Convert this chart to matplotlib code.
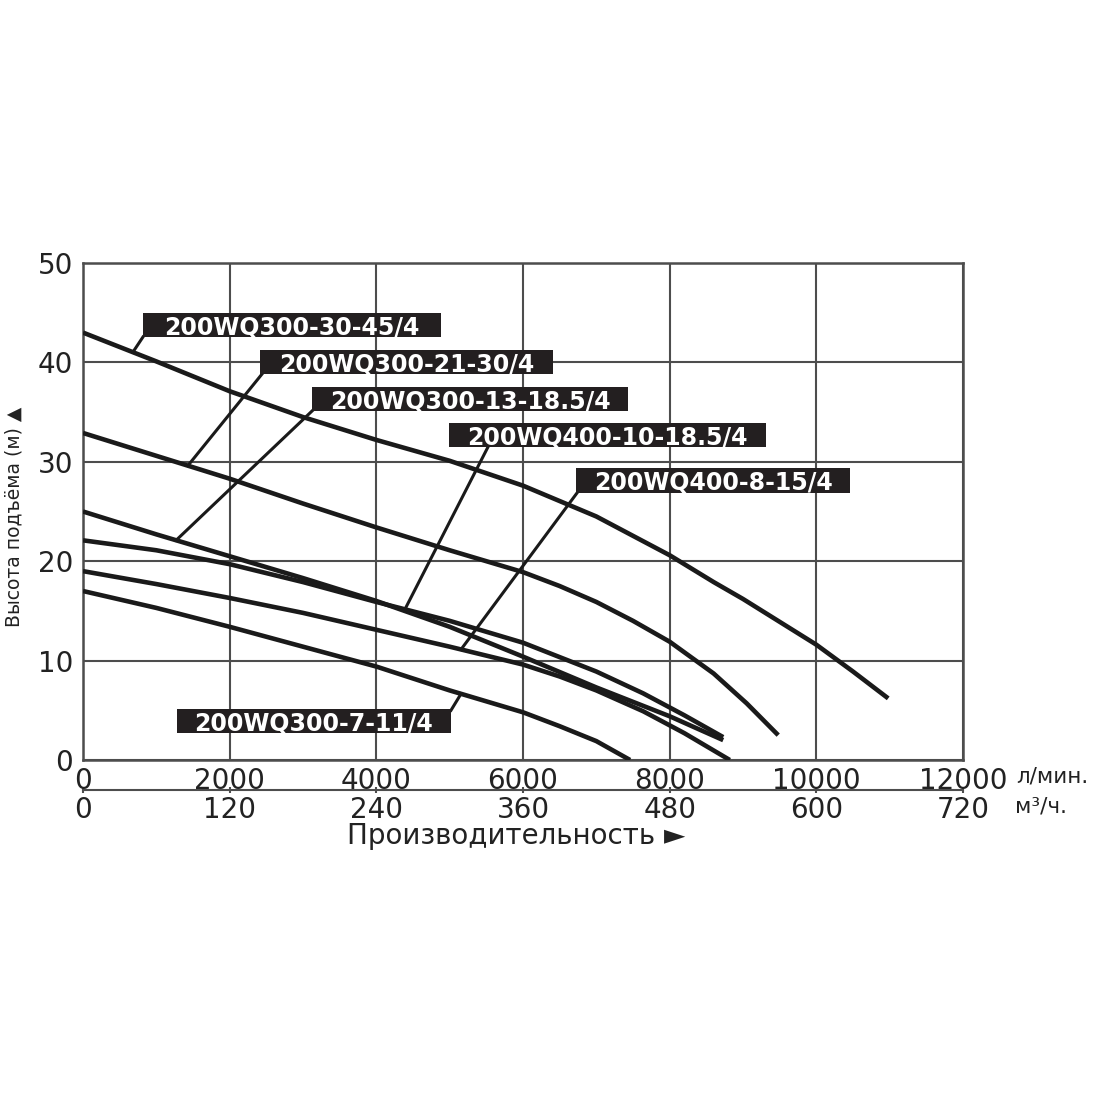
import numpy as np
import matplotlib.pyplot as plt
from matplotlib.patches import Rectangle

plt.rcParams['font.family'] = ['DejaVu Sans']

# pump curves: flow (l/min) vs head (m)
q_30_45 = [0, 1000, 2000, 3000, 4000, 5000, 6000, 7000, 8000, 8600, 9000, 10000, 10500, 10980]
h_30_45 = [43.0, 40.1, 37.1, 34.5, 32.2, 30.1, 27.6, 24.5, 20.6, 17.9, 16.2, 11.6, 8.9, 6.2]

q_21_30 = [0, 1000, 2000, 3000, 4000, 5000, 6000, 6500, 7000, 7500, 8000, 8600, 9050, 9480]
h_21_30 = [32.9, 30.6, 28.3, 25.8, 23.4, 21.1, 18.9, 17.5, 15.9, 14.0, 11.9, 8.7, 5.7, 2.5]

q_13_185 = [0, 1000, 2000, 3000, 4000, 5000, 6000, 7000, 8000, 8730]
h_13_185 = [25.0, 22.7, 20.5, 18.3, 16.0, 13.4, 10.4, 7.3, 4.4, 2.0]

q_10_185 = [0, 1000, 2000, 3000, 4000, 5000, 6000, 7000, 7640, 8200, 8730]
h_10_185 = [22.1, 21.1, 19.7, 17.9, 15.9, 14.0, 11.8, 8.9, 6.7, 4.5, 2.3]

q_8_15 = [0, 1000, 2000, 3000, 4000, 5000, 6000, 6500, 7000, 7640, 8200, 8820]
h_8_15 = [19.0, 17.7, 16.3, 14.8, 13.1, 11.4, 9.6, 8.4, 7.0, 4.9, 2.7, 0.0]

q_7_11 = [0, 1000, 2000, 3000, 4000, 5000, 6000, 6500, 7000, 7460]
h_7_11 = [17.0, 15.3, 13.4, 11.4, 9.4, 7.0, 4.8, 3.4, 1.9, 0.0]

curves = [(q_30_45, h_30_45), (q_21_30, h_21_30), (q_13_185, h_13_185),
          (q_10_185, h_10_185), (q_8_15, h_8_15), (q_7_11, h_7_11)]

names = ["200WQ300-30-45/4", "200WQ300-21-30/4", "200WQ300-13-18.5/4",
         "200WQ400-10-18.5/4", "200WQ400-8-15/4", "200WQ300-7-11/4"]

# label boxes (x0, x1, y0, y1) and leader lines
boxes = [(818, 4882, 42.56, 44.97), (2414, 6409, 38.83, 41.25),
         (3123, 7432, 35.11, 37.53), (4991, 9314, 31.5, 33.9),
         (6723, 10459, 26.86, 29.38), (1282, 5018, 2.72, 5.13)]
leader_from = [(818, 42.56), (2441, 38.83), (3136, 35.2),
               (5523, 31.5), (6736, 26.86), (5018, 5.0)]
leader_to_q = [680, 1430, 1270, 4390, 5155, 5155]

x_ticks = [0, 2000, 4000, 6000, 8000, 10000, 12000]
y_ticks = [0, 10, 20, 30, 40, 50]
m3h_ticks = [0, 120, 240, 360, 480, 600, 720]

grid_col = "#4d4d4d"
txt_col = "#222222"

fig = plt.figure(figsize=(11, 11), dpi=100)
ax = fig.add_axes([83 / 1100, 1 - 760 / 1100, 880 / 1100, 497 / 1100])

for q, h in curves:
    ax.plot(q, h, color="#1a1a1a", lw=3.3, solid_joinstyle="round",
            solid_capstyle="butt", zorder=3)

for (x0, x1, y0, y1), (lx, ly), lq, (q, h), name in zip(boxes, leader_from, leader_to_q, curves, names):
    ax.plot([lx, lq], [ly, np.interp(lq, q, h)], color="#1a1a1a", lw=2.2, zorder=4)
    ax.add_patch(Rectangle((x0, y0), x1 - x0, y1 - y0, facecolor="#231f20",
                           edgecolor="none", zorder=5))
    ax.text((x0 + x1) / 2, (y0 + y1) / 2, name, color="white", fontsize=17,
            fontweight="bold", ha="center", va="center_baseline", zorder=6)

ax.set_xlim(0, 12000)
ax.set_ylim(0, 50)
ax.set_xticks(x_ticks)
ax.set_yticks(y_ticks)
ax.grid(True, color=grid_col, lw=1.5)
ax.set_axisbelow(True)
for s in ax.spines.values():
    s.set_color(grid_col)
    s.set_linewidth(1.8)
ax.tick_params(axis="both", length=0, labelsize=20, labelcolor=txt_col)
ax.tick_params(axis="x", pad=5)
ax.tick_params(axis="y", pad=7)

sec = ax.secondary_xaxis(-0.0604, functions=(lambda x: x * 0.06, lambda x: x / 0.06))
sec.set_xticks(m3h_ticks)
sec.spines["bottom"].set_color(grid_col)
sec.spines["bottom"].set_linewidth(1.5)
sec.tick_params(direction="inout", length=5, width=1.5, color=grid_col,
                labelsize=20, labelcolor=txt_col, pad=2)

fig.text(1016 / 1100, 1 - 776 / 1100, "л/мин.", fontsize=15.5, color=txt_col,
         ha="left", va="center")
fig.text(1015 / 1100, 1 - 806 / 1100, "м³/ч.", fontsize=15.5, color=txt_col,
         ha="left", va="center")
fig.text(516 / 1100, 1 - 836 / 1100, "Производительность ►", fontsize=20,
         color=txt_col, ha="center", va="center")
fig.text(14 / 1100, 1 - 517 / 1100, "Высота подъёма (м) ▲", fontsize=13.5,
         color=txt_col, ha="center", va="center", rotation=90)

fig.savefig("out.png", dpi=100, facecolor="white")
